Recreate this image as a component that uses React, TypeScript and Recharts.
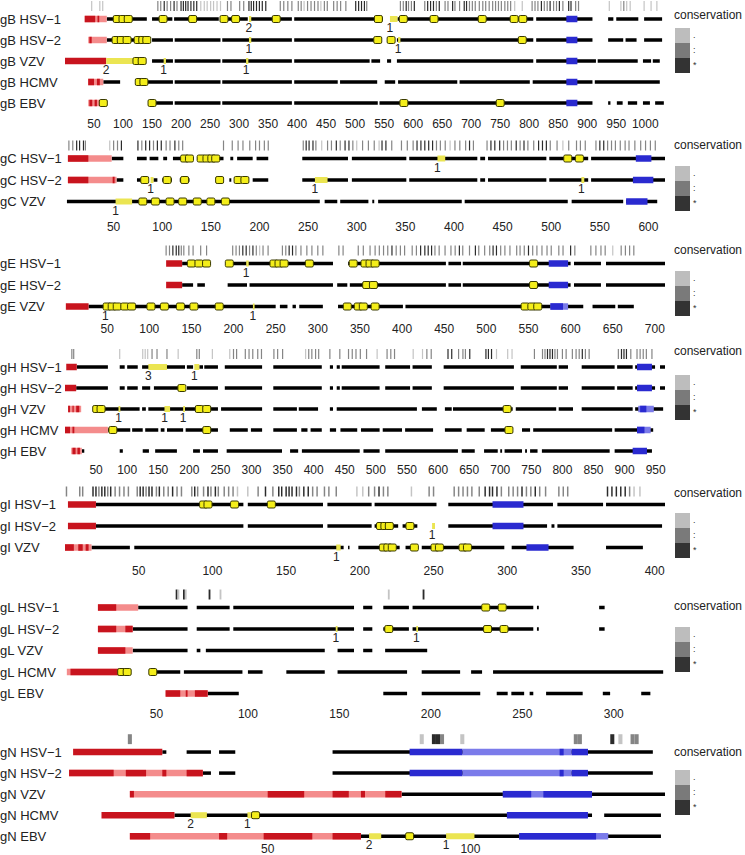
import React from "react";
import { ComposedChart, XAxis, YAxis, ReferenceLine, Scatter } from "recharts";

type Seg = [number, number];
type Mark = [number, number, string];
type Cons = [number, number];

const FONT = '"Liberation Sans", Arial, Helvetica, sans-serif';
const RED_L = "#f48c8c";
const RED_D = "#c8141e";
const BLUE_L = "#7b7bea";
const BLUE_D = "#2a2ad0";
const HL = "#ebe552";
const SITE = "#f4ee1a";
const CONS = ["", "#c4c4c4", "#858585", "#2b2b2b"];
const LEGEND: [string, string][] = [["#bdbdbd", "."], ["#7a7a7a", ":"], ["#333333", "*"]];

// ---------- gB ----------
const gBNames = ["gB HSV−1", "gB HSV−2", "gB VZV", "gB HCMV", "gB EBV"];
const gBTicks = [50, 100, 150, 200, 250, 300, 350, 400, 450, 500, 550, 600, 650, 700, 750, 800, 850, 900, 950, 1000];
const gBLines: Seg[][] = [
  [[72, 141], [150, 185], [188, 265], [268, 315], [318, 391], [395, 548], [573, 807], [812, 909], [936, 945], [950, 988], [998, 1029]],
  [[72, 143], [150, 186], [189, 268], [271, 391], [395, 545], [556, 566], [572, 807], [812, 909], [936, 962], [966, 985], [998, 1029]],
  [[117, 138], [150, 186], [189, 268], [271, 391], [395, 525], [528, 543], [555, 562], [572, 807], [812, 915], [918, 987], [996, 1010], [1013, 1025]],
  [[66, 95], [128, 186], [189, 268], [271, 391], [395, 470], [474, 538], [551, 569], [574, 676], [680, 801], [806, 909], [913, 1025]],
  [[150, 186], [189, 268], [271, 391], [395, 539], [542, 909], [936, 940], [951, 961], [970, 986], [996, 1008], [1017, 1032]],
];
const gBSpLight: Seg[][] = [[[34, 72]], [[40, 72]], [], [[40, 66]], [[40, 62]]];
const gBSpDark: Seg[][] = [[[34, 52], [56, 59]], [[42, 46]], [[0, 71]], [[40, 50], [55, 60]], [[42, 47], [51, 55]]];
const gBTmLight: Seg[][] = [[], [], [], [], []];
const gBTmDark: Seg[][] = [[[864, 883]], [[864, 883]], [[864, 883]], [[864, 883]], [[864, 883]]];
const gBSites = [
  [90, 100, 109, 169, 220, 274, 294, 364, 540, 583, 636, 719, 774, 789],
  [88, 97, 107, 126, 134, 141, 539, 562, 788],
  [124, 133],
  [128, 136],
  [66, 150, 584, 750],
];
const gBMarks: Mark[][] = [
  [[317, 321, "2"], [560, 573, "1"]],
  [[317, 321, "1"], [574, 578, "1"]],
  [[71, 117, "2"], [170, 174, "1"], [312, 316, "1"]],
  [],
  [],
];
const gBCons: Cons[] = [
  [46, 1], [60, 1], [65, 1],
  [160, 2], [165, 2], [171, 3], [176, 2], [182, 2], [188, 3], [193, 2], [200, 3], [204, 3], [208, 3], [212, 3], [217, 3], [222, 3], [227, 3],
  [234, 1], [240, 1], [245, 1], [251, 1], [256, 1], [262, 1], [268, 1], [280, 2], [286, 2], [301, 2], [308, 2],
  [317, 3], [321, 3], [325, 3], [330, 3], [335, 3], [340, 3], [346, 3], [371, 2], [377, 2], [384, 2], [391, 2],
  [402, 2], [407, 2], [412, 1], [418, 2], [424, 2], [430, 2], [436, 2], [441, 1], [447, 2], [452, 2], [463, 2], [469, 2], [475, 2], [484, 2],
  [501, 3], [506, 3], [511, 3], [516, 3], [520, 2],
  [578, 2], [583, 2], [588, 3], [592, 2], [597, 2], [602, 3], [620, 2], [625, 3], [630, 3], [635, 3], [640, 2], [645, 3], [655, 2], [660, 2],
  [668, 3], [672, 2], [680, 2], [688, 3], [692, 3], [697, 2], [702, 2], [707, 2], [714, 2], [720, 2], [725, 2], [731, 2], [737, 2], [742, 2],
  [747, 2], [752, 2], [758, 2], [763, 2], [768, 2], [775, 1], [788, 1], [805, 2], [810, 2], [815, 2], [821, 3], [826, 2], [831, 2], [836, 3],
  [842, 2], [847, 2], [852, 3], [858, 2], [868, 3], [872, 3], [880, 2], [885, 2],
  [938, 1], [958, 1], [963, 2], [968, 1], [974, 1], [998, 1], [1010, 1], [1020, 1],
];

// ---------- gC ----------
const gCNames = ["gC HSV−1", "gC HSV−2", "gC VZV"];
const gCTicks = [50, 100, 150, 200, 250, 300, 350, 400, 450, 500, 550, 600];
const gCLines: Seg[][] = [
  [[48, 60], [74, 84], [87, 96], [101, 105], [111, 132], [136, 163], [170, 173], [177, 193], [197, 209], [244, 291], [295, 351], [354, 424], [427, 432], [435, 495], [498, 538], [541, 617]],
  [[53, 60], [74, 85], [91, 95], [100, 110], [118, 128], [156, 162], [169, 171], [175, 188], [193, 209], [244, 291], [295, 351], [354, 424], [427, 432], [435, 495], [498, 538], [541, 617]],
  [[2, 262], [267, 280], [283, 312], [316, 318], [322, 408], [411, 517], [521, 574], [577, 609]],
];
const gCSpLight: Seg[][] = [[[3, 48]], [[3, 53]], []];
const gCSpDark: Seg[][] = [[[3, 24]], [[3, 24], [49, 51]], []];
const gCTmLight: Seg[][] = [[], [], []];
const gCTmDark: Seg[][] = [[[587, 603]], [[584, 605]], [[577, 599]]];
const gCSites = [
  [123, 128, 140, 146, 151, 155, 517, 529],
  [82, 105, 123, 159, 178, 185],
  [80, 93, 108, 121, 136, 150, 165],
];
const gCMarks: Mark[][] = [
  [[383, 391, "1"]],
  [[88, 91, "1"], [257, 270, "1"], [531, 534, "1"]],
  [[52, 69, "1"]],
];
const gCCons: Cons[] = [
  [4, 2], [8, 2], [12, 3], [15, 3], [19, 3], [21, 2], [46, 1], [50, 2], [54, 2], [58, 3],
  [75, 3], [79, 2], [83, 3], [87, 3], [91, 2], [95, 3], [99, 3], [104, 2], [108, 2], [113, 3], [117, 2], [121, 2],
  [163, 2], [172, 2], [178, 2], [183, 2], [190, 2], [196, 2], [200, 2], [205, 2], [209, 2],
  [245, 2], [248, 3], [251, 3], [255, 3], [258, 2], [264, 1], [270, 2], [274, 2], [279, 3], [283, 2], [288, 3], [292, 3], [296, 2], [300, 1],
  [306, 2], [312, 2], [318, 2], [323, 1], [326, 3], [330, 3], [336, 2], [346, 2], [352, 2], [358, 2], [362, 3], [366, 3], [370, 3], [374, 3],
  [378, 3], [382, 2], [386, 2], [391, 2], [396, 1], [401, 2], [406, 2], [412, 2], [416, 3], [420, 2], [434, 2], [438, 3], [442, 3], [447, 3],
  [451, 2], [455, 2], [459, 2], [464, 3], [468, 2], [472, 3], [476, 2], [482, 2], [487, 3], [491, 3], [495, 3], [499, 2], [506, 2], [512, 1],
  [518, 2], [526, 2], [530, 2], [535, 2], [546, 2], [550, 3], [554, 3], [558, 2], [562, 2], [566, 2], [571, 2], [576, 2], [580, 2], [586, 2],
  [592, 2], [597, 2], [602, 2], [607, 2],
];

// ---------- gE ----------
const gENames = ["gE HSV−1", "gE HSV−2", "gE VZV"];
const gETicks = [50, 100, 150, 200, 250, 300, 350, 400, 450, 500, 550, 600, 650, 700];
const gELines: Seg[][] = [
  [[139, 170], [195, 318], [336, 452], [455, 470], [472, 600], [604, 636], [642, 712]],
  [[139, 152], [157, 166], [193, 216], [219, 318], [323, 335], [338, 452], [455, 470], [472, 600], [604, 636], [642, 712]],
  [[28, 250], [255, 264], [270, 274], [278, 306], [324, 401], [404, 615], [626, 653], [656, 675]],
];
const gESpLight: Seg[][] = [[], [], []];
const gESpDark: Seg[][] = [[[120, 139]], [[120, 139]], [[1, 28]]];
const gETmLight: Seg[][] = [[], [], [[576, 597]]];
const gETmDark: Seg[][] = [[[574, 597]], [[574, 597]], [[576, 591]]];
const gESites = [
  [150, 159, 168, 195, 248, 254, 260, 290, 342, 356, 362, 368, 556],
  [358, 366, 556],
  [50, 56, 62, 71, 79, 102, 118, 137, 153, 183, 335, 348, 354, 368, 546, 554, 561],
];
const gEMarks: Mark[][] = [[[215, 218, "1"]], [], [[48, 50, "1"], [223, 225, "1"]]];
const gECons: Cons[] = [
  [120, 2], [124, 2], [128, 3], [132, 3], [135, 3], [138, 2], [141, 2], [147, 2], [152, 2], [161, 2], [168, 2],
  [199, 2], [203, 2], [207, 2], [211, 3], [215, 3], [219, 2], [223, 3], [227, 2], [231, 1], [235, 2], [241, 2],
  [258, 2], [262, 2], [266, 3], [270, 3], [274, 2], [280, 2], [287, 2], [293, 2], [300, 2], [306, 2], [325, 2], [330, 2],
  [348, 2], [354, 2], [362, 2], [368, 2], [373, 2], [378, 2], [383, 2], [388, 3], [393, 2], [398, 2], [403, 2],
  [412, 2], [417, 2], [422, 3], [427, 3], [431, 3], [435, 3], [439, 2], [444, 2], [451, 2], [458, 2], [463, 2], [468, 3], [472, 2],
  [480, 2], [487, 3], [491, 2], [498, 2], [504, 2], [508, 3], [512, 3], [517, 2], [522, 2], [528, 2], [536, 2], [540, 2], [545, 2],
  [550, 3], [555, 2], [560, 2], [566, 2], [572, 2], [577, 2], [586, 2], [591, 2], [600, 3], [605, 2], [624, 2], [630, 2], [636, 2],
  [641, 2], [650, 1], [660, 2], [665, 2], [670, 2], [675, 2],
];

// ---------- gH ----------
const gHNames = ["gH HSV−1", "gH HSV−2", "gH VZV", "gH HCMV", "gH EBV"];
const gHTicks = [50, 100, 150, 200, 250, 300, 350, 400, 450, 500, 550, 600, 650, 700, 750, 800, 850, 900, 950];
const gHLines: Seg[][] = [
  [[19, 69], [88, 96], [100, 117], [124, 193], [196, 206], [216, 222], [224, 246], [257, 317], [335, 413], [426, 431], [437, 442], [445, 506], [515, 555], [559, 590], [609, 722], [733, 791], [794, 809], [831, 884], [888, 913], [917, 949], [957, 965]],
  [[18, 69], [88, 96], [100, 117], [124, 137], [143, 193], [196, 246], [257, 317], [335, 413], [426, 431], [437, 442], [445, 506], [515, 555], [559, 590], [609, 722], [733, 791], [794, 809], [831, 884], [888, 913], [917, 949], [957, 965]],
  [[51, 120], [124, 130], [134, 246], [251, 317], [335, 373], [376, 407], [426, 431], [437, 566], [574, 598], [611, 622], [624, 720], [725, 790], [794, 817], [831, 913], [917, 962]],
  [[69, 105], [108, 125], [129, 150], [154, 160], [164, 190], [194, 246], [265, 294], [299, 317], [335, 373], [380, 390], [395, 413], [426, 436], [443, 470], [476, 506], [511, 542], [547, 592], [611, 638], [646, 675], [685, 714], [735, 748], [753, 880], [884, 946]],
  [[27, 31], [88, 93], [125, 135], [145, 180], [206, 217], [222, 246], [260, 349], [362, 375], [381, 474], [480, 506], [515, 632], [638, 659], [674, 696], [700, 703], [707, 735], [740, 743], [748, 760], [767, 876], [884, 944]],
];
const gHSpLight: Seg[][] = [[], [], [[5, 26]], [[0, 69]], [[10, 27]]];
const gHSpDark: Seg[][] = [[[2, 19]], [[0, 18]], [[5, 8], [12, 14], [18, 23]], [[0, 8], [12, 15]], [[12, 17], [20, 24]]];
const gHTmLight: Seg[][] = [[], [], [[922, 947]], [[920, 942]], []];
const gHTmDark: Seg[][] = [[[920, 944]], [[920, 944]], [[925, 935]], [[920, 932]], [[913, 936]]];
const gHSites = [[], [188], [51, 58, 216, 228, 711], [77, 228, 714], []];
const gHMarks: Mark[][] = [
  [[134, 164, "3"], [208, 216, "1"]],
  [],
  [[86, 89, "1"], [160, 169, "1"], [190, 193, "1"]],
  [],
  [],
];
const gHCons: Cons[] = [
  [11, 2], [14, 2], [88, 1], [125, 1], [129, 1], [133, 1], [140, 2], [148, 2], [164, 2], [182, 1], [212, 2], [216, 2], [237, 1],
  [265, 1], [271, 2], [276, 2], [290, 2], [296, 2], [302, 2], [310, 2], [316, 2], [336, 2], [342, 2], [350, 2],
  [387, 1], [392, 2], [397, 2], [403, 2], [408, 2], [426, 2], [442, 2], [456, 2], [462, 2], [468, 2], [475, 2], [485, 2],
  [502, 1], [518, 2], [524, 2], [530, 2], [560, 1], [575, 1], [582, 2], [589, 2], [616, 3], [622, 3], [633, 2], [640, 2], [644, 2], [651, 3],
  [677, 3], [681, 3], [686, 3], [694, 1], [712, 1], [719, 1], [755, 2], [768, 2], [772, 2], [776, 3], [780, 3], [784, 3], [788, 2], [792, 2],
  [800, 2], [806, 2], [816, 2], [822, 2], [827, 2], [832, 3], [837, 2], [843, 2], [890, 2], [895, 3], [899, 3], [903, 3], [910, 2],
  [920, 2], [925, 2], [930, 2], [935, 2], [944, 2],
];

// ---------- gI ----------
const gINames = ["gI HSV−1", "gI HSV−2", "gI VZV"];
const gITicks = [50, 100, 150, 200, 250, 300, 350, 400];
const gILines: Seg[][] = [
  [[21, 121], [124, 175], [178, 208], [210, 252], [260, 331], [334, 365], [367, 407]],
  [[21, 121], [124, 175], [178, 208], [210, 226], [229, 239], [260, 327], [330, 332], [334, 405]],
  [[18, 44], [47, 189], [192, 193], [199, 227], [231, 239], [242, 298], [303, 345], [367, 392]],
];
const gISpLight: Seg[][] = [[], [], [[0, 18]]];
const gISpDark: Seg[][] = [[[2, 21]], [[2, 21]], [[0, 6], [9, 12], [14, 16]]];
const gITmLight: Seg[][] = [[], [], []];
const gITmDark: Seg[][] = [[[290, 311]], [[290, 311]], [[313, 328]]];
const gISites = [
  [94, 97, 115, 140],
  [214, 217, 220, 234],
  [216, 219, 222, 237, 251, 254, 270, 273],
];
const gIMarks: Mark[][] = [[], [[249, 251, "1"]], [[184, 187, "1"]]];
const gICons: Cons[] = [
  [1, 2], [10, 2], [12, 2], [19, 3], [21, 3], [23, 2], [25, 3], [27, 3], [29, 2], [31, 3], [34, 2], [37, 2], [40, 2], [43, 2],
  [49, 2], [51, 3], [53, 3], [55, 2], [57, 3], [59, 3], [62, 2], [64, 3], [67, 2], [70, 2], [73, 3], [76, 2], [79, 2],
  [86, 2], [88, 3], [90, 2], [94, 2], [97, 3], [99, 2], [102, 3], [104, 2], [108, 2], [111, 2], [114, 2], [117, 1], [124, 1],
  [131, 2], [136, 3], [141, 2], [145, 3], [147, 3], [150, 3], [152, 3], [154, 3], [157, 3], [159, 2], [162, 3], [165, 3], [168, 2],
  [171, 2], [176, 2], [179, 2], [184, 2], [198, 1], [202, 1], [206, 2], [210, 2], [213, 3], [216, 2], [219, 2], [235, 1], [247, 2], [250, 2],
  [264, 2], [267, 2], [270, 2], [273, 2], [276, 2], [281, 2], [285, 3], [288, 3], [290, 3], [293, 3], [296, 2], [301, 2], [304, 2],
  [307, 2], [310, 3], [313, 2], [316, 2], [319, 3], [322, 2], [326, 2], [335, 2], [338, 2], [341, 2],
  [368, 3], [371, 3], [374, 3], [377, 3], [380, 3], [383, 2], [386, 1], [390, 1],
];

// ---------- gL ----------
const gLNames = ["gL HSV−1", "gL HSV−2", "gL VZV", "gL HCMV", "gL EBV"];
const gLTicks = [50, 100, 150, 200, 250, 300];
const gLLines: Seg[][] = [
  [[40, 67], [72, 90], [92, 158], [163, 168], [174, 188], [190, 256], [258, 259], [292, 295]],
  [[37, 67], [72, 90], [92, 158], [163, 168], [174, 188], [190, 256], [258, 259], [292, 295]],
  [[37, 67], [72, 74], [77, 142], [149, 158], [163, 168], [175, 198]],
  [[29, 34], [48, 63], [65, 97], [100, 108], [121, 142], [149, 187], [195, 216], [222, 228], [234, 327]],
  [[78, 95], [174, 187], [195, 227], [236, 242], [244, 251], [254, 256], [263, 283], [294, 298], [315, 320]],
];
const gLSpLight: Seg[][] = [[[18, 40]], [[18, 37]], [[18, 37]], [[1, 29]], [[55, 78]]];
const gLSpDark: Seg[][] = [[[18, 28]], [[18, 28], [33, 37]], [[18, 33]], [[3, 29]], [[55, 63], [66, 67], [71, 78]]];
const gLTmLight: Seg[][] = [[], [], [], [], []];
const gLTmDark: Seg[][] = [[], [], [], [], []];
const gLSites = [[230, 239], [177, 231, 240], [], [31, 34, 48], []];
const gLMarks: Mark[][] = [[], [[148, 149, "1"], [192, 193, "1"]], [], [], []];
const gLCons: Cons[] = [[61, 3], [62, 1], [65, 3], [66, 1], [79, 3], [85, 1], [177, 1], [196, 3]];

// ---------- gN ----------
const gNNames = ["gN HSV−1", "gN HSV−2", "gN VZV", "gN HCMV", "gN EBV"];
const gNTicks = [50, 100];
const gNLines: Seg[][] = [
  [[24, 25], [30, 36], [38, 42], [66, 145]],
  [[34, 36], [38, 42], [66, 145]],
  [[83, 148]],
  [[27, 130], [133, 147]],
  [[73, 147]],
];
const gNSpLight: Seg[][] = [[], [[1, 34]], [[16, 83]], [], [[16, 73]]];
const gNSpDark: Seg[][] = [
  [[2, 24]],
  [[1, 12], [15, 20], [24, 25], [30, 34]],
  [[16, 17], [50, 59], [66, 70], [73, 74], [79, 83]],
  [[9, 27]],
  [[16, 21], [38, 40], [49, 61], [66, 73]],
];
const gNTmLight: Seg[][] = [[[98, 125]], [[98, 125]], [[108, 130]], [], [[112, 134]]];
const gNTmDark: Seg[][] = [[[85, 98], [122, 123], [125, 129]], [[85, 98], [122, 123], [125, 129]], [[108, 115], [118, 130]], [[109, 129]], [[112, 131]]];
const gNSites = [[], [], [], [47], [85]];
const gNMarks: Mark[][] = [[], [], [], [[31, 35, "2"], [45, 46, "1"]], [[75, 78, "2"], [94, 101, "1"]]];
const gNCons: Cons[] = [[16, 2], [88, 1], [91, 3], [92, 3], [93, 2], [98, 1], [126, 2], [127, 2], [135, 3], [137, 1], [140, 2], [141, 2]];

interface PanelSpec {
  names: string[];
  ticks: number[];
  max: number;
  lines: Seg[][];
  spLight: Seg[][];
  spDark: Seg[][];
  tmLight: Seg[][];
  tmDark: Seg[][];
  sites: number[][];
  marks: Mark[][];
  cons: Cons[];
  row0: number;
  sp: number;
  axisY: number;
  legendText: number;
  legendBox: number;
}

const panels: PanelSpec[] = [
  { names: gBNames, ticks: gBTicks, max: 1034, lines: gBLines, spLight: gBSpLight, spDark: gBSpDark, tmLight: gBTmLight, tmDark: gBTmDark, sites: gBSites, marks: gBMarks, cons: gBCons, row0: 19, sp: 21, axisY: 123, legendText: 15, legendBox: 28 },
  { names: gCNames, ticks: gCTicks, max: 617, lines: gCLines, spLight: gCSpLight, spDark: gCSpDark, tmLight: gCTmLight, tmDark: gCTmDark, sites: gCSites, marks: gCMarks, cons: gCCons, row0: 158.5, sp: 21.5, axisY: 226, legendText: 145, legendBox: 166 },
  { names: gENames, ticks: gETicks, max: 712, lines: gELines, spLight: gESpLight, spDark: gESpDark, tmLight: gETmLight, tmDark: gETmDark, sites: gESites, marks: gEMarks, cons: gECons, row0: 263, sp: 21.5, axisY: 328, legendText: 250, legendBox: 271 },
  { names: gHNames, ticks: gHTicks, max: 965, lines: gHLines, spLight: gHSpLight, spDark: gHSpDark, tmLight: gHTmLight, tmDark: gHTmDark, sites: gHSites, marks: gHMarks, cons: gHCons, row0: 367, sp: 21, axisY: 469, legendText: 351, legendBox: 375 },
  { names: gINames, ticks: gITicks, max: 407, lines: gILines, spLight: gISpLight, spDark: gISpDark, tmLight: gITmLight, tmDark: gITmDark, sites: gISites, marks: gIMarks, cons: gICons, row0: 504, sp: 21.5, axisY: 570, legendText: 493, legendBox: 513 },
  { names: gLNames, ticks: gLTicks, max: 328, lines: gLLines, spLight: gLSpLight, spDark: gLSpDark, tmLight: gLTmLight, tmDark: gLTmDark, sites: gLSites, marks: gLMarks, cons: gLCons, row0: 607, sp: 21.5, axisY: 713, legendText: 606, legendBox: 627 },
  { names: gNNames, ticks: gNTicks, max: 148, lines: gNLines, spLight: gNSpLight, spDark: gNSpDark, tmLight: gNTmLight, tmDark: gNTmDark, sites: gNSites, marks: gNMarks, cons: gNCons, row0: 752, sp: 21.25, axisY: 848, legendText: 752, legendBox: 770 },
];

const SiteBox = (props: any) => {
  const { cx, cy } = props;
  if (cx == null || cy == null) return null;
  return <rect x={cx - 4} y={cy - 3.5} width={8} height={7} rx={1.5} fill={SITE} stroke="#3a3a00" strokeWidth={1} />;
};

const MarkLabel = (props: any) => {
  const { cx, cy, payload } = props;
  if (cx == null || cy == null) return null;
  return (
    <text x={cx} y={cy + 13} textAnchor="middle" fontSize={12} fontFamily={FONT} fill="#222">
      {payload.t}
    </text>
  );
};

function Panel({ p }: { p: PanelSpec }) {
  const W = 745;
  const lo = -1;
  const hi = (p.axisY - 12 - p.row0) / p.sp;
  const axisH = 26;
  const h = (hi - lo) * p.sp + axisH;
  const px = 600 / p.max;

  const bars = (rows: Seg[][], color: string, w: number, k: string) =>
    rows.flatMap((row, i) =>
      row.map(([a, b], j) => (
        <ReferenceLine
          key={`${k}-${i}-${j}`}
          segment={[{ x: a, y: i }, { x: b, y: i }]}
          stroke={color}
          strokeWidth={w}
          ifOverflow="visible"
        />
      ))
    );

  const hlSegs: Seg[][] = p.marks.map((row) => row.map((m) => [m[0], m[1]] as Seg));
  const siteData = p.sites.flatMap((row, i) => row.map((x) => ({ x, y: i })));
  const labelData = p.marks.flatMap((row, i) => row.map((m) => ({ x: m[0], y: i, t: m[2] })));
  const cTop = -18 / p.sp;
  const cBot = -8 / p.sp;

  const nameTick = (props: any) => (
    <text x={0} y={props.y} dy={4.5} textAnchor="start" fontSize={13} fontFamily={FONT} fill="#222">
      {p.names[props.payload.value]}
    </text>
  );

  return (
    <div style={{ position: "absolute", left: 0, top: p.row0 - p.sp, width: W, height: h }}>
      <ComposedChart width={W} height={h} margin={{ top: 0, right: 80, bottom: 0, left: 0 }}>
        <XAxis
          type="number"
          dataKey="x"
          domain={[0, p.max]}
          ticks={p.ticks}
          interval={0}
          axisLine={false}
          tickLine={false}
          height={axisH}
          tick={{ fontSize: 12, fill: "#222", fontFamily: FONT }}
        />
        <YAxis
          type="number"
          dataKey="y"
          domain={[lo, hi]}
          reversed
          width={65}
          ticks={p.names.map((_, i) => i)}
          interval={0}
          axisLine={false}
          tickLine={false}
          tick={nameTick}
        />
        {p.cons.map(([x, lv], j) => (
          <ReferenceLine
            key={`c-${j}`}
            segment={[{ x, y: cTop }, { x, y: cBot }]}
            stroke={CONS[lv]}
            strokeWidth={Math.max(1.2, px)}
            ifOverflow="visible"
          />
        ))}
        {bars(p.lines, "#000", 3.5, "l")}
        {bars(p.spLight, RED_L, 6.5, "sl")}
        {bars(p.spDark, RED_D, 6.5, "sd")}
        {bars(p.tmLight, BLUE_L, 6.5, "tl")}
        {bars(p.tmDark, BLUE_D, 6.5, "td")}
        {bars(hlSegs, HL, 6, "h")}
        <Scatter data={labelData} shape={MarkLabel} isAnimationActive={false} />
        <Scatter data={siteData} shape={SiteBox} isAnimationActive={false} />
      </ComposedChart>
      <div style={{ position: "absolute", left: 674, top: p.legendText - p.row0 + p.sp - 8, fontSize: 12, fontFamily: FONT, color: "#222", whiteSpace: "nowrap", lineHeight: "16px" }}>
        conservation
      </div>
      {LEGEND.map(([c, s], i) => (
        <React.Fragment key={i}>
          <div style={{ position: "absolute", left: 675, top: p.legendBox - p.row0 + p.sp + 15 * i, width: 15, height: 15, background: c }} />
          <div style={{ position: "absolute", left: 693, top: p.legendBox - p.row0 + p.sp + 15 * i + 3, fontSize: 9, lineHeight: "9px", fontFamily: FONT, color: "#333" }}>
            {s}
          </div>
        </React.Fragment>
      ))}
    </div>
  );
}

export default function App() {
  return (
    <div style={{ position: "absolute", left: 0, top: 0, width: 745, height: 855, overflow: "hidden", background: "#fff" }}>
      {panels.map((p, i) => (
        <Panel key={i} p={p} />
      ))}
    </div>
  );
}
